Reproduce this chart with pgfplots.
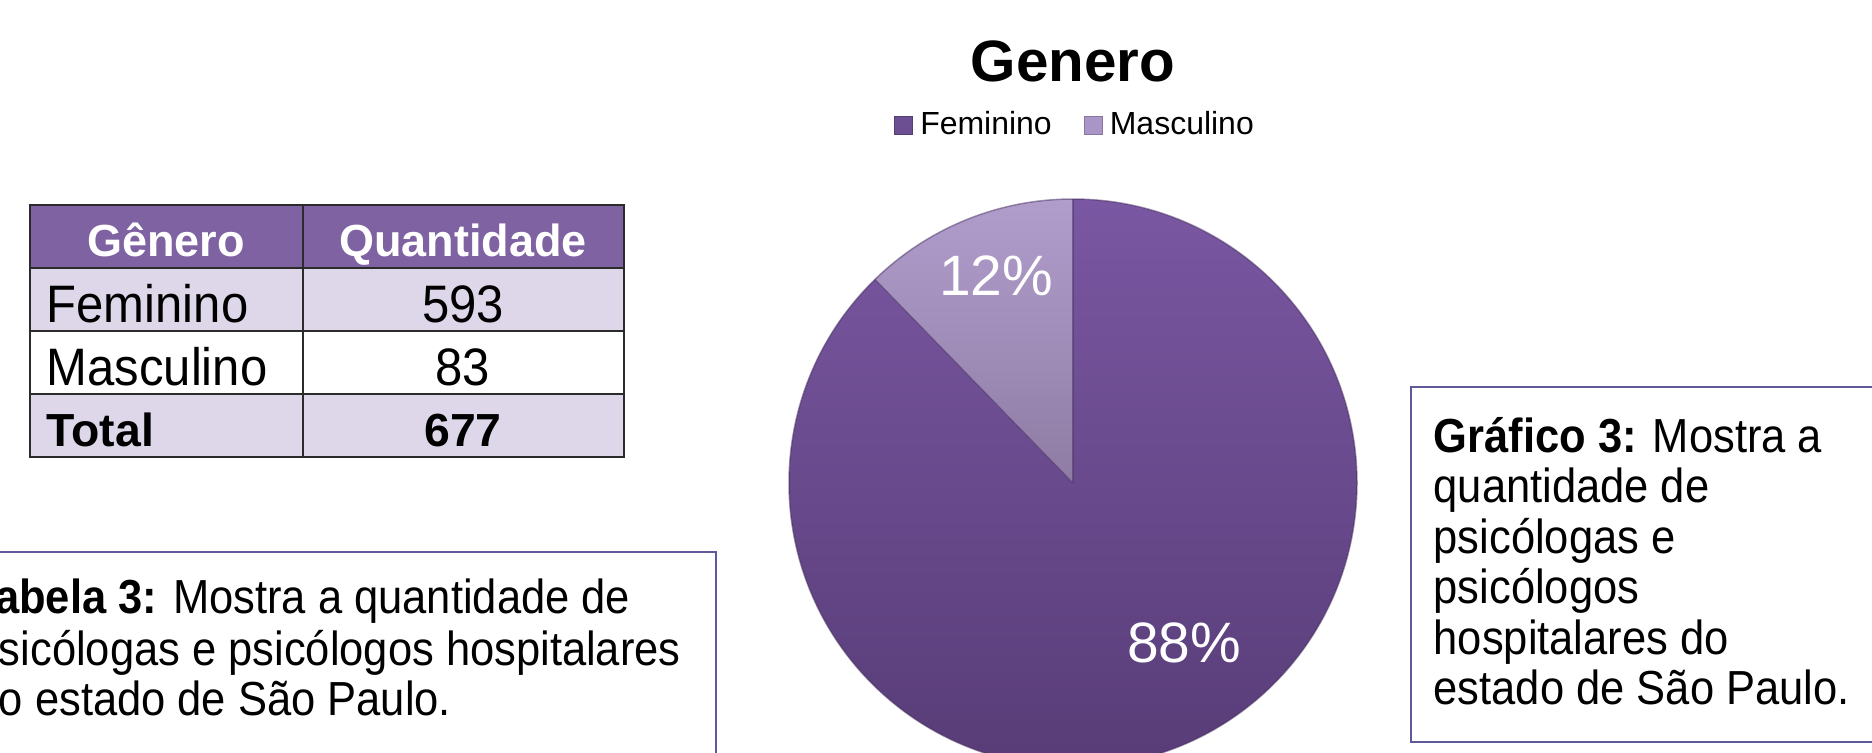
\documentclass[border=0pt]{standalone}
\usepackage{fontspec}
\setmainfont{Liberation Sans}
\newfontfamily\narrowfont[FakeStretch=0.93]{Liberation Sans}
\newfontfamily\boxnarrow[FakeStretch=0.91]{Liberation Sans}
\usepackage{pgfplots}
\usepackage{pgfplotstable}
\pgfplotsset{compat=1.18}

\definecolor{femtop}{HTML}{7A57A2}
\definecolor{fembot}{HTML}{563B75}
\definecolor{mastop}{HTML}{B19DCC}
\definecolor{masbot}{HTML}{8E7CA4}
\definecolor{femleg}{HTML}{6C4E92}
\definecolor{masleg}{HTML}{A995C6}
\definecolor{headfill}{HTML}{7E62A1}
\definecolor{rowfill}{HTML}{DED6E9}
\definecolor{gridcol}{HTML}{2B2B2B}
\definecolor{boxcol}{HTML}{5E5A9A}

% quantidades por genero
\pgfplotstableread{
genero quantidade
Feminino 593
Masculino 83
}\generodata

\newcommand\tabfont{\narrowfont\fontsize{15}{18}\selectfont}
\newcommand\tabbold{\bfseries\fontsize{13.2}{15}\selectfont}
\newcommand\boxfont{\boxnarrow\fontsize{13.6}{16}\selectfont}

\begin{document}
\begin{tikzpicture}[x=0.1mm,y=-0.1mm]
\clip (0,0) rectangle (1872,752);
\coordinate (piecenter) at (1073,483);

% --- tabela ---
\fill[headfill] (30,205) rectangle (624,268);
\fill[rowfill] (30,268) rectangle (624,331);
\fill[rowfill] (30,394) rectangle (624,457);
\foreach \yy in {268,331,394}
  \draw[gridcol, line width=0.25mm] (30,\yy) -- (624,\yy);
\draw[gridcol, line width=0.25mm] (303,205) -- (303,457);
\draw[gridcol, line width=0.25mm] (30,205) rectangle (624,457);

\node[anchor=base, inner sep=0, text=white, font=\bfseries\fontsize{12.8}{15}\selectfont] at (166,256) {Gênero};
\node[anchor=base, inner sep=0, text=white, font=\bfseries\fontsize{12.8}{15}\selectfont] at (463,256) {Quantidade};
\node[anchor=base west, inner sep=0, font=\tabfont] at (46,322) {Feminino};
\node[anchor=base, inner sep=0, font=\tabfont] at (463,322) {593};
\node[anchor=base west, inner sep=0, font=\tabfont] at (46,385) {Masculino};
\node[anchor=base, inner sep=0, font=\tabfont] at (463,385) {83};
\node[anchor=base west, inner sep=0, font=\tabbold] at (46,446) {Total};
\node[anchor=base, inner sep=0, font=\tabbold] at (463,446) {677};

% --- caixas de texto ---
\draw[boxcol, line width=0.2mm] (-20,552) rectangle (716,800);
\node[anchor=base west, inner sep=0, font=\boxfont] at (-29,613) {\textbf{Tabela 3:} Mostra a quantidade de};
\node[anchor=base west, inner sep=0, font=\boxfont] at (-26,665) {psicólogas e psicólogos hospitalares};
\node[anchor=base west, inner sep=0, font=\boxfont] at (-26,715) {do estado de São Paulo.};

\draw[boxcol, line width=0.2mm] (1411,387) rectangle (1900,742);
\node[anchor=base west, inner sep=0, font=\boxfont] at (1433,452) {\textbf{Gráfico 3:} Mostra a};
\node[anchor=base west, inner sep=0, font=\boxfont] at (1433,502.5) {quantidade de};
\node[anchor=base west, inner sep=0, font=\boxfont] at (1433,553) {psicólogas e};
\node[anchor=base west, inner sep=0, font=\boxfont] at (1433,603.5) {psicólogos};
\node[anchor=base west, inner sep=0, font=\boxfont] at (1433,654) {hospitalares do};
\node[anchor=base west, inner sep=0, font=\boxfont] at (1433,704.5) {estado de São Paulo.};

% --- grafico de pizza ---
\pgfplotstablegetelem{0}{quantidade}\of\generodata
\let\qfem\pgfplotsretval
\pgfplotstablegetelem{1}{quantidade}\of\generodata
\let\qmas\pgfplotsretval
\pgfmathsetmacro\fracmas{\qmas/(\qfem+\qmas)}
\pgfmathsetmacro\angsplit{90+360*\fracmas}
\pgfmathtruncatemacro\pcmas{round(100*\fracmas)}
\pgfmathtruncatemacro\pcfem{100-\pcmas}

\begin{axis}[
    at={(piecenter)}, anchor=center,
    x=2.84cm, y=2.84cm,
    xmin=-1, xmax=1, ymin=-1, ymax=1,
    hide axis, clip=false,
    title={Genero},
    title style={at={(0.5,1.169)}, anchor=base,
      font=\bfseries\fontsize{16.6}{18}\selectfont},
    legend columns=2,
    legend style={draw=none, fill=none, at={(0.508,1.13)}, anchor=center,
      font=\fontsize{9.1}{10}\selectfont,
      /tikz/every even column/.append style={column sep=2.5mm}},
    legend image code/.code={\draw[#1] (0mm,-0.9mm) rectangle (1.8mm,0.9mm);},
]
\addlegendimage{fill=femleg, draw=femleg!80!black, line width=0.1mm}
\addlegendentry{Feminino}
\addlegendimage{fill=masleg, draw=masleg!80!black, line width=0.1mm}
\addlegendentry{Masculino}

\shade[top color=femtop, bottom color=fembot]
  (axis cs:0,0) -- ++(\angsplit:2.84cm)
  arc[start angle=\angsplit, end angle=450, radius=2.84cm] -- cycle;
\shade[top color=mastop, bottom color=masbot]
  (axis cs:0,0) -- ++(90:2.84cm)
  arc[start angle=90, end angle=\angsplit, radius=2.84cm] -- cycle;
\draw[femleg!70!black, line width=0.12mm, opacity=0.6]
  (axis cs:0,0) -- ++(\angsplit:2.84cm);
\draw[femleg!70!black, line width=0.12mm, opacity=0.6]
  (axis cs:0,0) -- ++(90:2.84cm);
\draw[fembot!80!black, line width=0.15mm, opacity=0.5]
  (axis cs:0,0) circle[radius=2.84cm];

\node[text=white, inner sep=0, font=\fontsize{16.2}{18}\selectfont]
  at (axis cs:-0.271,0.729) {\pcmas\%};
\node[text=white, inner sep=0, font=\fontsize{16.2}{18}\selectfont]
  at (axis cs:0.391,-0.563) {\pcfem\%};
\end{axis}
\end{tikzpicture}
\end{document}
